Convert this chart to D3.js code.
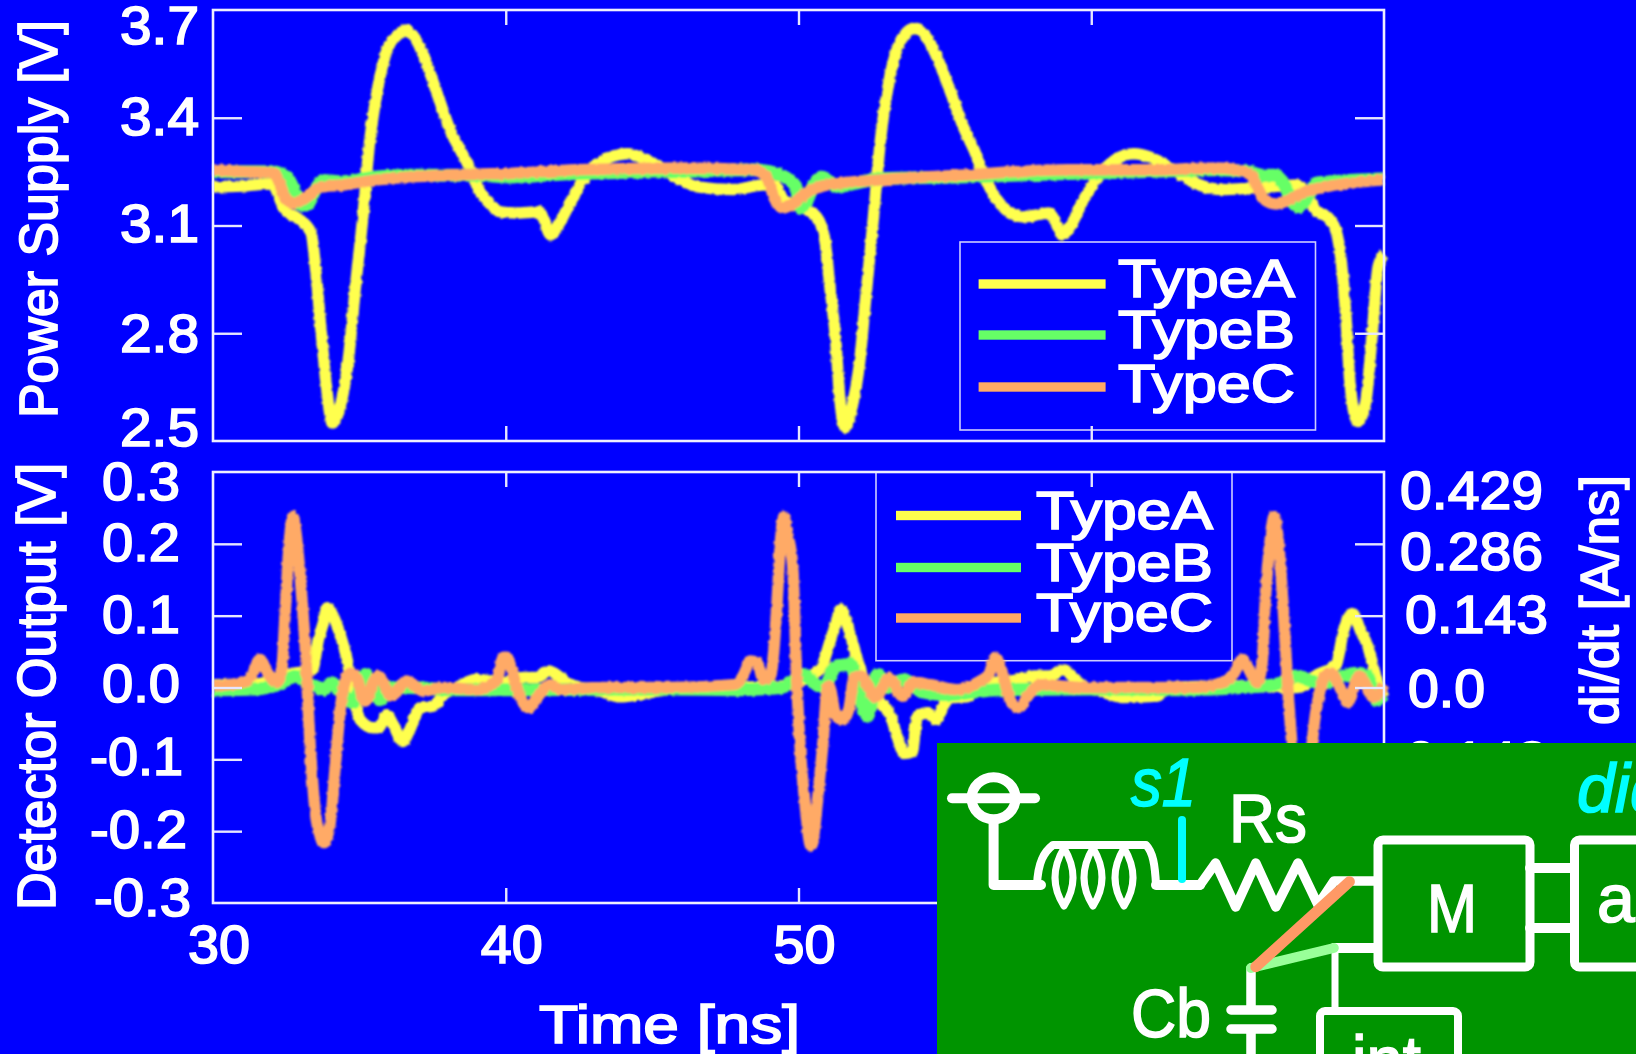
<!DOCTYPE html>
<html>
<head>
<meta charset="utf-8">
<script src="https://cdn.jsdelivr.net/npm/d3@7/dist/d3.min.js"></script>
<style>
  html, body { margin: 0; padding: 0; background: #0000ff; overflow: hidden; }
  text { font-family: "Liberation Sans", Arial, sans-serif; }
</style>
</head>
<body>
<svg id="chart" width="1636" height="1054"></svg>
<script>
// values: [time ns, volts]
var supplyA = [[30,3.207],[31,3.21],[32,3.216],[32.46,3.143],[32.9,3.12],[33.35,3.08],[33.5,2.985],[33.7,2.8],[33.9,2.634],[34.07,2.55],[34.34,2.595],[34.6,2.71],[34.88,2.94],[35.15,3.15],[35.32,3.31],[35.6,3.47],[35.95,3.59],[36.3,3.63],[36.57,3.644],[36.94,3.617],[37.3,3.55],[37.73,3.45],[38.1,3.366],[38.45,3.31],[38.8,3.255],[39.08,3.2],[39.44,3.163],[39.8,3.138],[40.33,3.135],[41.15,3.138],[41.3,3.116],[41.53,3.074],[41.76,3.096],[42.12,3.15],[42.57,3.218],[43,3.263],[43.55,3.29],[44.17,3.3],[44.8,3.283],[45.43,3.255],[45.96,3.227],[46.6,3.207],[47.75,3.2],[48.8,3.213],[49.2,3.21],[49.5,3.17],[49.8,3.16],[50.07,3.152],[50.62,3.124],[50.9,3.06],[51.06,2.94],[51.25,2.8],[51.44,2.595],[51.6,2.537],[51.83,2.595],[52.07,2.706],[52.29,2.893],[52.53,3.096],[52.8,3.338],[53.08,3.497],[53.36,3.589],[53.72,3.64],[54,3.65],[54.36,3.625],[54.72,3.57],[55.17,3.477],[55.63,3.375],[56,3.31],[56.36,3.235],[56.72,3.18],[57.18,3.138],[57.72,3.124],[58.54,3.135],[58.78,3.11],[59,3.074],[59.27,3.096],[59.73,3.171],[60.27,3.24],[60.82,3.283],[61.45,3.3],[62.1,3.288],[62.8,3.255],[63.55,3.218],[64.46,3.2],[65.56,3.205],[66.5,3.21],[67.03,3.213],[67.48,3.17],[67.66,3.143],[68.12,3.12],[68.38,3.08],[68.56,2.985],[68.7,2.846],[68.84,2.66],[69.1,2.554],[69.37,2.606],[69.6,2.8],[69.8,2.985],[70,3.02]];
var supplyB = [[30,3.25],[31,3.25],[32,3.25],[32.3,3.245],[32.52,3.236],[32.8,3.194],[33,3.157],[33.2,3.157],[33.5,3.2],[33.76,3.225],[34.45,3.222],[35.6,3.235],[36.73,3.24],[37.87,3.24],[39,3.24],[40.15,3.235],[42.4,3.245],[46,3.25],[48.46,3.255],[49,3.25],[49.4,3.24],[49.9,3.21],[50.07,3.15],[50.3,3.17],[50.5,3.21],[50.8,3.235],[51.3,3.207],[51.8,3.215],[52.8,3.23],[55.5,3.235],[59.2,3.245],[61.9,3.25],[64.3,3.255],[65.4,3.25],[65.8,3.24],[66.25,3.24],[66.6,3.213],[66.83,3.171],[67.07,3.152],[67.4,3.18],[67.7,3.218],[67.96,3.22],[70,3.23]];
var supplyC = [[30,3.255],[31,3.25],[32.05,3.246],[32.3,3.213],[32.46,3.177],[32.75,3.163],[33.03,3.17],[33.3,3.185],[33.66,3.207],[34.45,3.213],[35.6,3.227],[36.73,3.235],[37.87,3.24],[39,3.243],[40.15,3.245],[42.4,3.255],[46,3.26],[48.46,3.255],[48.9,3.235],[49.2,3.171],[49.45,3.149],[49.8,3.16],[50.17,3.185],[51,3.213],[52.8,3.227],[55.5,3.24],[59.2,3.255],[61.9,3.255],[64.3,3.26],[65.4,3.246],[65.67,3.207],[65.95,3.17],[66.3,3.16],[66.75,3.171],[67.3,3.194],[67.85,3.205],[70,3.227]];

var detectA = [[30,0.004],[31.5,0.005],[32.5,0.018],[33.4,0.025],[33.6,0.067],[33.77,0.09],[33.9,0.111],[34.1,0.1],[34.34,0.074],[34.6,0.035],[34.8,-0.012],[35.03,-0.045],[35.47,-0.056],[35.65,-0.056],[35.93,-0.038],[36.16,-0.052],[36.48,-0.075],[36.73,-0.058],[37.08,-0.028],[37.53,-0.026],[37.87,-0.01],[38.33,0],[39,0.011],[39.92,0.008],[40.6,0.014],[41.07,0.014],[41.46,0.023],[41.87,0.014],[42.2,0.004],[43.23,-0.005],[43.9,-0.013],[44.6,-0.01],[45.5,-0.003],[47.8,0],[49.4,0.002],[50.5,0.018],[50.8,0.03],[51.1,0.067],[51.27,0.088],[51.44,0.109],[51.8,0.069],[52.07,0.031],[52.4,-0.01],[52.8,-0.021],[53.15,-0.04],[53.37,-0.068],[53.6,-0.092],[53.88,-0.09],[54.06,-0.04],[54.4,-0.035],[54.7,-0.045],[54.97,-0.024],[55.2,-0.014],[55.77,-0.013],[56.2,0.004],[57.37,0.01],[58.05,0.016],[58.6,0.016],[59.02,0.025],[59.4,0.014],[59.65,0.004],[60.3,-0.005],[61.1,-0.014],[62.27,-0.012],[62.6,0],[65,0.002],[67.05,0],[67.74,0.018],[68.37,0.032],[68.6,0.076],[68.93,0.103],[69.2,0.079],[69.44,0.058],[69.78,0.007],[70,-0.014]];
var detectB = [[30,-0.003],[31.5,-0.002],[32.2,0.004],[32.86,0.016],[33.2,0.005],[33.55,0.001],[33.77,-0.003],[34.05,0.007],[34.34,-0.005],[34.8,-0.021],[35.2,0.018],[35.7,-0.017],[36.16,0],[36.73,0],[38,-0.003],[41,-0.003],[45,-0.002],[48,-0.003],[49.4,0],[50.2,0.018],[50.5,0.007],[50.85,0],[51.3,0.03],[51.78,0.032],[52.05,-0.007],[52.35,-0.04],[52.7,0.018],[53.03,0],[53.6,0.011],[54.17,-0.005],[55.1,-0.01],[56.78,-0.003],[60,-0.002],[63,-0.003],[65.1,0],[66.3,0.004],[67.05,0.016],[67.5,0.009],[68,0.007],[68.76,0.018],[69.1,0.02],[69.44,0.016],[69.73,-0.017],[70,-0.01]];
var detectC = [[30,0.002],[31.03,0.007],[31.32,0.016],[31.6,0.039],[31.9,0.018],[32.18,0.007],[32.35,0.025],[32.46,0.1],[32.6,0.198],[32.73,0.238],[32.85,0.21],[33,0.143],[33.18,0.036],[33.27,-0.045],[33.39,-0.124],[33.53,-0.184],[33.8,-0.216],[34.02,-0.184],[34.2,-0.097],[34.38,-0.02],[34.68,0.02],[34.9,0.014],[35.2,-0.019],[35.47,0.007],[35.65,0.016],[36.1,-0.012],[36.62,0.009],[37.18,-0.005],[37.87,0],[39,-0.003],[39.7,0.011],[39.92,0.042],[40.04,0.042],[40.26,0.016],[40.5,-0.014],[40.78,-0.028],[41.07,-0.014],[41.52,0.004],[41.87,-0.003],[43.23,0],[45.5,0],[47.8,0.004],[48.08,0.014],[48.36,0.037],[48.6,0.034],[48.8,0.011],[49.05,0.016],[49.15,0.048],[49.27,0.12],[49.38,0.2],[49.5,0.238],[49.62,0.215],[49.8,0.17],[49.94,0.01],[50.08,-0.097],[50.2,-0.152],[50.43,-0.221],[50.7,-0.135],[50.85,-0.07],[50.98,0],[51.05,0.002],[51.27,-0.038],[51.5,-0.045],[51.72,-0.03],[51.9,0.014],[52.13,0.016],[52.64,-0.014],[53.08,0.014],[53.55,-0.012],[53.94,0.007],[54.5,0.004],[55.43,-0.003],[56.2,0.009],[56.5,0.018],[56.73,0.042],[56.96,0.02],[57.25,-0.019],[57.53,-0.028],[57.87,-0.01],[58.28,0.004],[59.65,0],[63.4,0],[64.5,0.007],[64.88,0.02],[65.17,0.039],[65.45,0.02],[65.68,0.007],[65.85,0.039],[65.94,0.117],[66.1,0.2],[66.25,0.238],[66.4,0.2],[66.55,0.117],[66.74,-0.017],[66.85,-0.077],[67,-0.17],[67.2,-0.22],[67.4,-0.17],[67.55,-0.077],[67.84,0],[68,0.018],[68.2,0.02],[68.47,0.002],[68.76,-0.021],[69.15,0.016],[69.66,-0.014],[70,0.004]];

var seriesNames = ["TypeA", "TypeB", "TypeC"];
var seriesColors = ["#ffff4d", "#66ff66", "#ffaa66"];

var xTicks = [40, 50, 60];
var xLabels = [30, 40, 50, 60, 70];
var supplyTicks = [3.4, 3.1, 2.8];
var supplyLabels = ["3.7", "3.4", "3.1", "2.8", "2.5"];
var detectTicks = [0.2, 0.1, 0, -0.1, -0.2];
var detectLabels = ["0.3", "0.2", "0.1", "0.0", "-0.1", "-0.2", "-0.3"];
var didtLabels = ["0.429", "0.286", "0.143", "0.0", "-0.143", "-0.286", "-0.429"];

var svg = d3.select("#chart");
var defs = svg.append("defs");

// rough edge on the traces, slight softness on everything (the source is a blown up bitmap)
var rough = defs.append("filter").attr("id", "rough")
  .attr("filterUnits", "userSpaceOnUse")
  .attr("x", 0).attr("y", 0).attr("width", 1636).attr("height", 1054);
rough.append("feTurbulence").attr("type", "fractalNoise").attr("baseFrequency", 0.25)
  .attr("numOctaves", 1).attr("seed", 4).attr("result", "n");
rough.append("feDisplacementMap").attr("in", "SourceGraphic").attr("in2", "n")
  .attr("scale", 3.5).attr("xChannelSelector", "R").attr("yChannelSelector", "G");
rough.append("feGaussianBlur").attr("stdDeviation", 0.9);

var soft = defs.append("filter").attr("id", "soft")
  .attr("filterUnits", "userSpaceOnUse")
  .attr("x", 0).attr("y", 0).attr("width", 1636).attr("height", 1054);
soft.append("feGaussianBlur").attr("stdDeviation", 0.7);

var x = d3.scaleLinear().domain([30, 70]).range([213, 1384]);
var ySupply = d3.scaleLinear().domain([2.5, 3.7]).range([441, 10]);
var yDetect = d3.scaleLinear().domain([-0.3, 0.3]).range([903, 472]);

var line = d3.line().curve(d3.curveMonotoneX).x(function(d) { return x(d[0]); });

function label(g, str, px, py, len, rotate) {
  var t = g.append("text").text(str)
    .attr("fill", "#fff").attr("stroke", "#fff").attr("stroke-width", 1.7)
    .attr("font-size", 53);
  if (rotate) {
    t.attr("transform", "translate(" + px + "," + py + ") rotate(-90)");
  } else {
    t.attr("x", px).attr("y", py);
  }
  t.attr("textLength", len).attr("lengthAdjust", "spacingAndGlyphs");
  return t;
}

function legend(g, bx, by, bw, bh, hx, hw, hy, tx, ty) {
  g.append("rect").attr("x", bx).attr("y", by).attr("width", bw).attr("height", bh)
    .attr("fill", "none").attr("stroke", "#ccccff").attr("stroke-width", 1.6);
  seriesNames.forEach(function(name, i) {
    g.append("rect").attr("x", hx).attr("y", hy[i] - 4.7).attr("width", hw).attr("height", 9.4)
      .attr("fill", seriesColors[i]);
    label(g, name, tx, ty[i], 177);
  });
}

function panel(y, tickVals, rows, top, bottom) {
  var g = svg.append("g");
  var traces = g.append("g").attr("filter", "url(#rough)");
  rows.forEach(function(rows1, i) {
    traces.append("path").datum(rows1)
      .attr("d", line.y(function(d) { return y(d[1]); }))
      .attr("fill", "none")
      .attr("stroke", seriesColors[i])
      .attr("stroke-width", i == 1 ? 13 : 11.5)
      .attr("stroke-linejoin", "round");
  });

  var ax = g.append("g").attr("filter", "url(#soft)");
  ax.append("g").attr("transform", "translate(213,0)")
    .call(d3.axisLeft(y).tickValues(tickVals).tickSize(-29).tickFormat(""));
  ax.append("g").attr("transform", "translate(1384,0)")
    .call(d3.axisRight(y).tickValues(tickVals).tickSize(-29).tickFormat(""));
  ax.append("g").attr("transform", "translate(0," + top + ")")
    .call(d3.axisTop(x).tickValues(xTicks).tickSize(-15).tickFormat(""));
  ax.append("g").attr("transform", "translate(0," + bottom + ")")
    .call(d3.axisBottom(x).tickValues(xTicks).tickSize(-15).tickFormat(""));
  ax.selectAll(".domain").remove();
  ax.selectAll(".tick line").attr("stroke", "#e6e6ff").attr("stroke-width", 2.4);
  ax.append("rect").attr("x", 213).attr("y", top).attr("width", 1171).attr("height", bottom - top)
    .attr("fill", "none").attr("stroke", "#eeeeff").attr("stroke-width", 2.6);
}

// legends go under the traces
var legends = svg.append("g").attr("filter", "url(#soft)");
legend(legends, 960, 242, 355.5, 188, 978.6, 127, [284, 335, 387], 1118, [297, 348, 402]);
legend(legends, 876, 472, 356, 188.7, 896, 125, [515.5, 567.5, 618], 1036, [529, 581, 631]);

panel(ySupply, supplyTicks, [supplyA, supplyB, supplyC], 10, 441);
panel(yDetect, detectTicks, [detectA, detectB, detectC], 472, 903);

// axis text
var txt = svg.append("g").attr("filter", "url(#soft)");
var supplyLabelY = [44, 135, 242, 352, 446];
supplyLabels.forEach(function(s, i) {
  label(txt, s, 120, supplyLabelY[i], 79);
});
var detectLabelX = [102, 102, 102, 102, 90, 90, 94];
var detectLabelY = [500, 561, 633, 702, 775, 848, 916];
var detectLabelW = [78, 78, 78, 78, 93, 97, 97];
detectLabels.forEach(function(s, i) {
  label(txt, s, detectLabelX[i], detectLabelY[i], detectLabelW[i]);
});
var didtLabelX = [1400, 1400, 1405, 1408, 1386, 1386, 1386];
var didtLabelY = [509, 570, 633, 707, 779, 850, 916];
var didtLabelW = [143, 143, 143, 77, 162, 162, 162];
didtLabels.forEach(function(s, i) {
  label(txt, s, didtLabelX[i], didtLabelY[i], didtLabelW[i]);
});
xLabels.forEach(function(v) {
  label(txt, String(v), x(v) - 25, 963, 62);
});
label(txt, "Time [ns]", 539, 1043, 261);
label(txt, "Power Supply [V]", 57, 418, 398, true);
label(txt, "Detector Output [V]", 55, 910, 447, true);
label(txt, "di/dt [A/ns]", 1618, 725, 250, true);

// schematic inset
var inset = svg.append("g").attr("filter", "url(#soft)");
inset.append("rect").attr("x", 937).attr("y", 743).attr("width", 699).attr("height", 311).attr("fill", "#009400");

var wire = inset.append("g").attr("fill", "none").attr("stroke", "#fff")
  .attr("stroke-width", 10).attr("stroke-linecap", "round").attr("stroke-linejoin", "round");
wire.append("ellipse").attr("cx", 993.6).attr("cy", 798.3).attr("rx", 22).attr("ry", 21);
wire.append("path").attr("d", "M952 798.3H1035");
wire.append("path").attr("d", "M993.6 822V885H1041");
// inductor
wire.append("path").attr("stroke-width", 8)
  .attr("d", "M1037 885C1038 862 1044 852 1053 845H1146C1153 852 1155 865 1156 885");
wire.append("path").attr("d", "M1156 885H1200");
[1064, 1093, 1124].forEach(function(cx) {
  wire.append("path").attr("stroke-width", 7)
    .attr("d", "M" + cx + " 848Q" + (cx - 18) + " 878 " + cx + " 906Q" + (cx + 18) + " 878 " + cx + " 848");
});
// resistor
wire.append("path").attr("stroke-width", 9.5)
  .attr("d", "M1200 885L1215.6 863L1235.7 907L1255.8 863L1275.8 907L1298 863L1318 905L1334 881H1374");
// M box and the next one
wire.append("rect").attr("x", 1378).attr("y", 840).attr("width", 152).attr("height", 127).attr("rx", 5).attr("stroke-width", 9);
wire.append("rect").attr("x", 1574.5).attr("y", 840).attr("width", 120).attr("height", 127).attr("rx", 5).attr("stroke-width", 9);
wire.append("path").attr("d", "M1530 868H1572M1530 928H1572");
wire.append("path").attr("d", "M1334 948H1376");
wire.append("path").attr("stroke-width", 7).attr("d", "M1335 948V1008");
wire.append("rect").attr("x", 1320).attr("y", 1011).attr("width", 138).attr("height", 80).attr("rx", 5).attr("stroke-width", 8);
// capacitor
wire.append("path").attr("stroke-width", 9.5).attr("d", "M1251 968V1008M1231 1010H1272M1231 1029H1272M1251 1031V1060");
// switch
inset.append("path").attr("d", "M1333.8 948L1251 968").attr("stroke", "#99ff99").attr("stroke-width", 10).attr("stroke-linecap", "round");
inset.append("path").attr("d", "M1349.4 881.7L1255.8 966.7").attr("stroke", "#ff9966").attr("stroke-width", 11).attr("stroke-linecap", "round");
inset.append("path").attr("d", "M1182 820V879").attr("stroke", "#00ffff").attr("stroke-width", 8).attr("stroke-linecap", "round");

function schemText(str, px, py, len, color, italic) {
  var t = inset.append("text").text(str).attr("x", px).attr("y", py)
    .attr("fill", color).attr("stroke", color).attr("stroke-width", 1.6)
    .attr("font-size", 68);
  if (len) t.attr("textLength", len).attr("lengthAdjust", "spacingAndGlyphs");
  if (italic) t.attr("font-style", "italic");
}
schemText("s1", 1131, 806, 65, "#00ffff", true);
schemText("did", 1577, 812, 0, "#00ffff", true);
schemText("Rs", 1229, 842, 78, "#fff");
schemText("M", 1427, 932, 50, "#fff");
schemText("am", 1597, 922, 0, "#fff");
schemText("Cb", 1131, 1037, 80, "#fff");
schemText("int", 1352, 1084, 69, "#fff");
</script>
</body>
</html>
